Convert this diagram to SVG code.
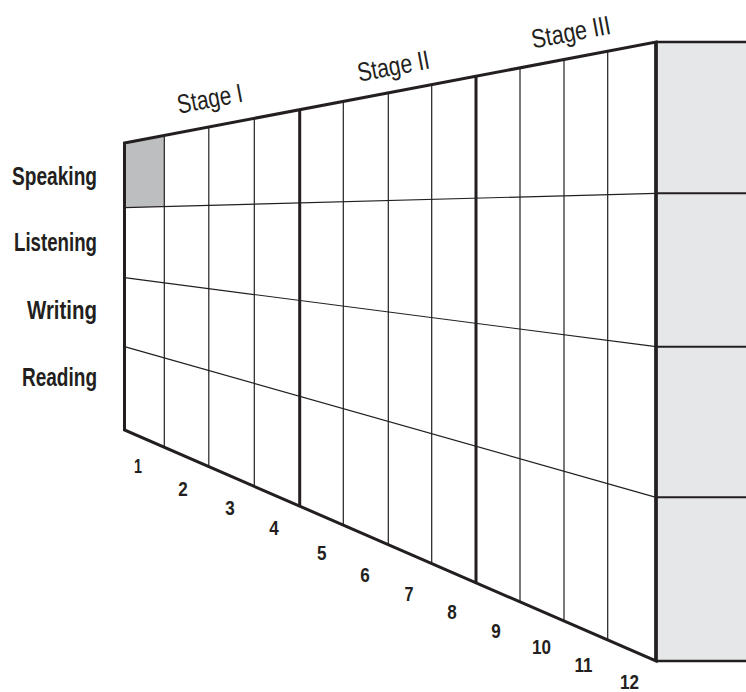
<svg xmlns="http://www.w3.org/2000/svg" width="746" height="692" viewBox="0 0 746 692">
<style>
.lbl{font-family:"Liberation Sans",Arial,sans-serif;font-weight:bold;fill:#231f20}
.row{font-size:26.5px;text-anchor:end}
.num{font-size:20.5px;text-anchor:middle}
.stage{font-family:"Liberation Sans",Arial,sans-serif;font-size:26.5px;fill:#231f20;text-anchor:middle}
.thin{stroke:#231f20;stroke-width:1.2;fill:none}
.thick{stroke:#231f20;stroke-width:3;fill:none}
.border{stroke:#231f20;stroke-width:3;fill:none;stroke-linejoin:miter}
</style>
<rect width="746" height="692" fill="#ffffff"/>
<g id="side-panel">
<rect x="656" y="42" width="92" height="619" fill="#e6e7e8"/>
<line x1="656" y1="42" x2="746" y2="42" stroke="#231f20" stroke-width="2.5"/>
<line x1="656" y1="661" x2="746" y2="661" stroke="#231f20" stroke-width="2.5"/>
<line x1="656" y1="193.3" x2="746" y2="193.3" stroke="#231f20" stroke-width="2"/>
<line x1="656" y1="346.7" x2="746" y2="346.7" stroke="#231f20" stroke-width="2"/>
<line x1="656" y1="497.3" x2="746" y2="497.3" stroke="#231f20" stroke-width="2"/>
</g>
<g id="grid">
<polygon id="shaded-cell" points="124.5,143 164.3,135.44 164.3,206.62 124.5,207.7" fill="#bcbec0"/>
<g id="columns">
<line class="thin" x1="164.3" y1="135.44" x2="164.3" y2="447.3"/>
<line class="thin" x1="208.8" y1="126.98" x2="208.8" y2="466.64"/>
<line class="thin" x1="254.3" y1="118.33" x2="254.3" y2="486.41"/>
<line class="thin" x1="343.3" y1="101.42" x2="343.3" y2="525.09"/>
<line class="thin" x1="388.3" y1="92.87" x2="388.3" y2="544.65"/>
<line class="thin" x1="431.7" y1="84.62" x2="431.7" y2="563.52"/>
<line class="thin" x1="520" y1="67.84" x2="520" y2="601.89"/>
<line class="thin" x1="564" y1="59.48" x2="564" y2="621.02"/>
<line class="thin" x1="607.7" y1="51.18" x2="607.7" y2="640.01"/>
</g>
<g id="rows">
<line class="thin" x1="124.5" y1="207.7" x2="656" y2="193.3"/>
<line class="thin" x1="124.5" y1="277.7" x2="656" y2="346.7"/>
<line class="thin" x1="124.5" y1="346.7" x2="656" y2="497.3"/>
</g>
<g id="stage-dividers">
<line class="thick" x1="299.7" y1="109.71" x2="299.7" y2="506.15"/>
<line class="thick" x1="476" y1="76.2" x2="476" y2="582.77"/>
</g>
<polygon class="border" points="124.5,143 656,42 656,661 124.5,430"/>
<line x1="656" y1="42" x2="656" y2="661" stroke="#231f20" stroke-width="3.5"/>
</g>
<g id="row-labels">
<text class="lbl row" x="97" y="184.5" textLength="85" lengthAdjust="spacingAndGlyphs">Speaking</text>
<text class="lbl row" x="97" y="251" textLength="83" lengthAdjust="spacingAndGlyphs">Listening</text>
<text class="lbl row" x="97" y="318.5" textLength="70" lengthAdjust="spacingAndGlyphs">Writing</text>
<text class="lbl row" x="97" y="385.5" textLength="75" lengthAdjust="spacingAndGlyphs">Reading</text>
</g>
<g id="stage-labels">
<text class="stage" x="211.5" y="107.5" transform="rotate(-10.76 211.5 107.5)" textLength="66" lengthAdjust="spacingAndGlyphs">Stage I</text>
<text class="stage" x="395" y="75" transform="rotate(-10.76 395 75)" textLength="73" lengthAdjust="spacingAndGlyphs">Stage II</text>
<text class="stage" x="572.5" y="41" transform="rotate(-10.76 572.5 41)" textLength="80" lengthAdjust="spacingAndGlyphs">Stage III</text>
</g>
<g id="column-numbers">
<text class="lbl num" x="138" y="473" textLength="8" lengthAdjust="spacingAndGlyphs">1</text>
<text class="lbl num" x="183" y="496" textLength="9.5" lengthAdjust="spacingAndGlyphs">2</text>
<text class="lbl num" x="230" y="515" textLength="9.5" lengthAdjust="spacingAndGlyphs">3</text>
<text class="lbl num" x="274" y="535" textLength="9.5" lengthAdjust="spacingAndGlyphs">4</text>
<text class="lbl num" x="321.7" y="560" textLength="9.5" lengthAdjust="spacingAndGlyphs">5</text>
<text class="lbl num" x="365" y="582" textLength="9.5" lengthAdjust="spacingAndGlyphs">6</text>
<text class="lbl num" x="409" y="600.7" textLength="9" lengthAdjust="spacingAndGlyphs">7</text>
<text class="lbl num" x="452" y="619.3" textLength="9.5" lengthAdjust="spacingAndGlyphs">8</text>
<text class="lbl num" x="496" y="637.7" textLength="9.5" lengthAdjust="spacingAndGlyphs">9</text>
<text class="lbl num" x="541.5" y="654" textLength="19" lengthAdjust="spacingAndGlyphs">10</text>
<text class="lbl num" x="583.5" y="672.3" textLength="18" lengthAdjust="spacingAndGlyphs">11</text>
<text class="lbl num" x="629.5" y="689.3" textLength="19" lengthAdjust="spacingAndGlyphs">12</text>
</g>
</svg>
